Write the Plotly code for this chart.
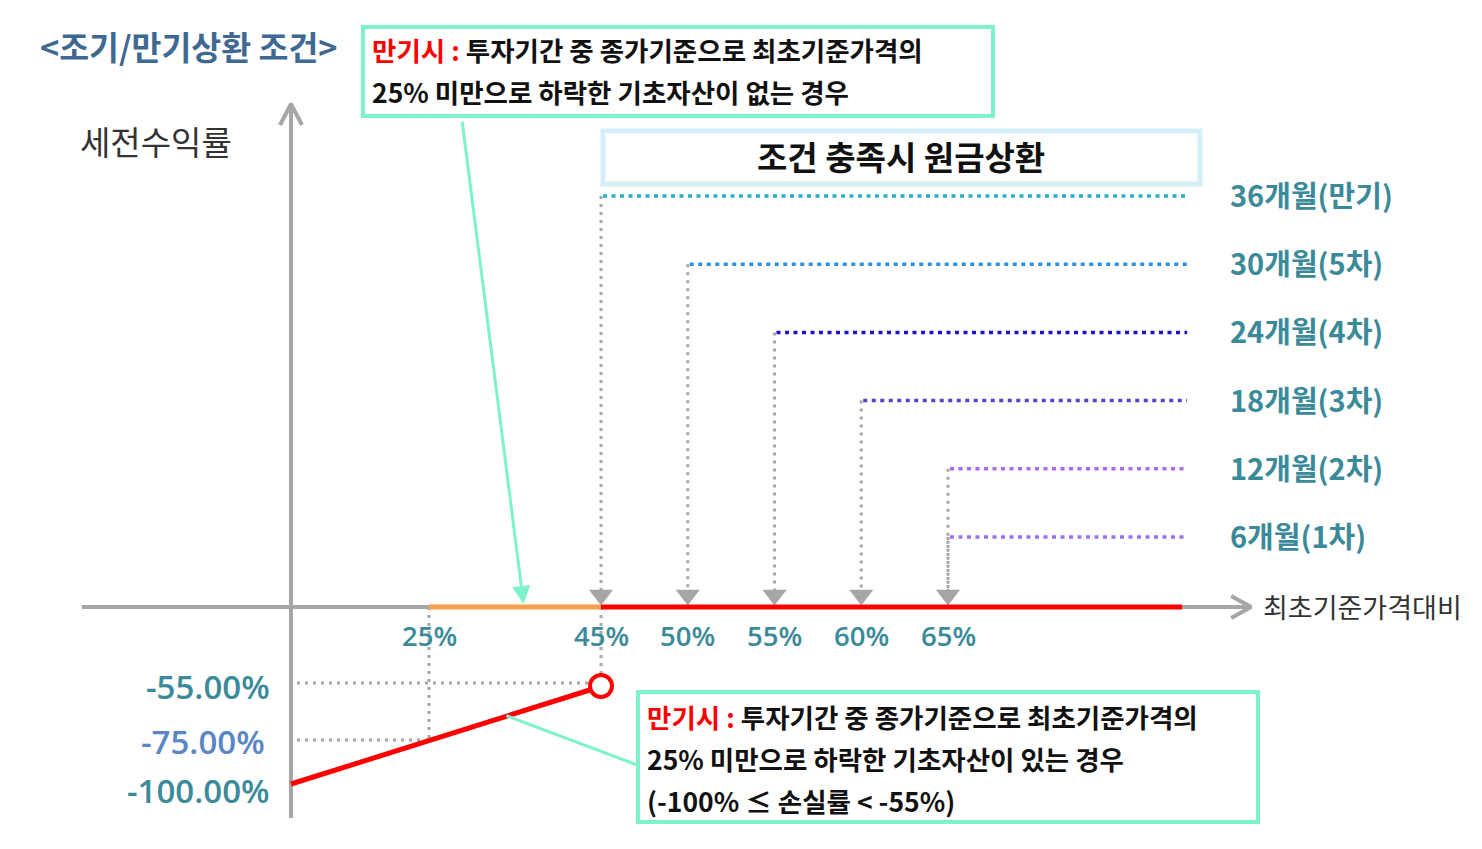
import numpy as np
import plotly.graph_objects as go

# ---------------- data ----------------
obs_labels = ["6개월(1차)", "12개월(2차)", "18개월(3차)", "24개월(4차)", "30개월(5차)", "36개월(만기)"]
obs_months = [6, 12, 18, 24, 30, 36]
obs_barrier = [65, 65, 60, 55, 50, 45]          # % of initial price
obs_colors = ["#a56cf0", "#a56cf0", "#5b40c8", "#1515c9", "#2a93e4", "#22b4c6"]

tick_pct = [25, 45, 50, 55, 60, 65]
tick_labels = ["25%", "45%", "50%", "55%", "60%", "65%"]

ki_barrier = 25        # knock-in level (%)
mat_barrier = 45       # maturity redemption level (%)
loss_pct = [0, 25, 45]          # underlying vs initial (%)
loss_ret = [-100, -75, -55]     # pre-tax return (%)
ret_labels = ["-100.00%", "-75.00%", "-55.00%"]
ret_label_colors = ["#3b8a9a", "#5a86c6", "#3b8a9a"]
axis_end_pct = 78.5

# ---------------- schematic (broken) scales ----------------
_XP = [0, 25, 45, 65, 100]
_XD = [291, 429, 601, 948, 1555]
_RP = [-100, -75, -55, 0]
_RD = [784, 740, 686, 607]


def X(p):
    return float(np.interp(p, _XP, _XD))


def Y(r):
    return float(np.interp(r, _RP, _RD))


def YM(m):  # observation month -> vertical position
    return float(np.interp(m, [6, 36], [537, 196]))


FONT = "Noto Sans CJK KR"
NUMFONT = "Open Sans"
TEAL = "#3b8a9a"
GRAY = "#a6a6a6"
AQUA = "#7ef2ca"

fig = go.Figure()
ann = []
shapes = []

y0 = Y(0)

# x axis line + arrow
fig.add_trace(go.Scatter(x=[82, X(axis_end_pct) + 67], y=[y0, y0], mode="lines",
                         line=dict(color=GRAY, width=4), hoverinfo="skip"))
xa = X(axis_end_pct) + 69
fig.add_trace(go.Scatter(x=[xa - 20, xa, xa - 20], y=[y0 - 11, y0, y0 + 11], mode="lines",
                         line=dict(color=GRAY, width=4), hoverinfo="skip"))
# y axis line + arrow
fig.add_trace(go.Scatter(x=[X(0), X(0)], y=[818, 106], mode="lines",
                         line=dict(color=GRAY, width=4), hoverinfo="skip"))
fig.add_trace(go.Scatter(x=[X(0) - 11, X(0), X(0) + 11], y=[125, 104, 125], mode="lines",
                         line=dict(color=GRAY, width=4), hoverinfo="skip"))

# vertical gray dotted guides for each barrier (with arrow)
dot_gray = dict(color=GRAY, width=3, dash="3px,5px")
for m, b in zip(obs_months, obs_barrier):
    fig.add_trace(go.Scatter(x=[X(b), X(b)], y=[YM(m), y0 - 12], mode="lines",
                             line=dot_gray, hoverinfo="skip"))
uniq = sorted(set(obs_barrier))
fig.add_trace(go.Scatter(x=[X(b) for b in uniq], y=[y0 - 12] * len(uniq), mode="markers",
                         marker=dict(symbol="triangle-down", size=21, color=GRAY), hoverinfo="skip"))

# horizontal coloured dotted lines for each observation
for m, b, c in zip(obs_months, obs_barrier, obs_colors):
    fig.add_trace(go.Scatter(x=[X(b) + 2, X(axis_end_pct) + 5], y=[YM(m), YM(m)], mode="lines",
                             line=dict(color=c, width=3.5, dash="4px,4.5px"), hoverinfo="skip"))

# guides in loss area
fig.add_trace(go.Scatter(x=[X(0) + 6, X(mat_barrier) - 10], y=[Y(-55) - 3, Y(-55) - 3], mode="lines",
                         line=dot_gray, hoverinfo="skip"))
fig.add_trace(go.Scatter(x=[X(0) + 6, X(ki_barrier)], y=[Y(-75), Y(-75)], mode="lines",
                         line=dot_gray, hoverinfo="skip"))
fig.add_trace(go.Scatter(x=[X(ki_barrier), X(ki_barrier)], y=[y0, Y(-75)], mode="lines",
                         line=dot_gray, hoverinfo="skip"))
fig.add_trace(go.Scatter(x=[X(mat_barrier), X(mat_barrier)], y=[y0, Y(-55) - 12], mode="lines",
                         line=dot_gray, hoverinfo="skip"))

# payoff: orange (25-45) and red (>=45) on the axis
fig.add_trace(go.Scatter(x=[X(ki_barrier), X(mat_barrier)], y=[y0, y0], mode="lines",
                         line=dict(color="#f5a04c", width=5), hoverinfo="skip"))
fig.add_trace(go.Scatter(x=[X(mat_barrier), X(axis_end_pct)], y=[y0, y0], mode="lines",
                         line=dict(color="#ff0000", width=5), hoverinfo="skip"))
# loss line
fig.add_trace(go.Scatter(x=[X(p) for p in loss_pct[:-1]] + [X(loss_pct[-1]) - 8],
                         y=[Y(r) for r in loss_ret[:-1]] + [Y(loss_ret[-1]) + 3],
                         mode="lines", line=dict(color="#ff0000", width=5), hoverinfo="skip"))
fig.add_trace(go.Scatter(x=[X(loss_pct[-1])], y=[Y(loss_ret[-1])], mode="markers",
                         marker=dict(symbol="circle", size=22, color="white",
                                     line=dict(color="#ff0000", width=4)), hoverinfo="skip"))

# bottom connector
fig.add_trace(go.Scatter(x=[X(34), 640], y=[Y(-66), 766], mode="lines",
                         line=dict(color=AQUA, width=3), hoverinfo="skip"))

# ---------- boxes ----------
shapes.append(dict(type="rect", xref="x", yref="y", x0=363, y0=27, x1=993, y1=116,
                   line=dict(color=AQUA, width=4), fillcolor="white", layer="below"))
shapes.append(dict(type="rect", xref="x", yref="y", x0=603, y0=131, x1=1200, y1=184,
                   line=dict(color="#d6eef7", width=5), fillcolor="white", layer="below"))
shapes.append(dict(type="rect", xref="x", yref="y", x0=638, y0=692, x1=1258, y1=822,
                   line=dict(color=AQUA, width=4), fillcolor="white", layer="below"))

# top connector arrow
ann.append(dict(x=X(36), y=y0 - 3, ax=462, ay=120, xref="x", yref="y", axref="x", ayref="y",
                text="", showarrow=True, arrowhead=2, arrowsize=1.2, arrowwidth=3, arrowcolor=AQUA))

# ---------- texts ----------
def txt(x, y, s, size, color="#111", xanchor="left", bold=False, weight=None, family=FONT):
    f = dict(family=family, size=size, color=color)
    if weight:
        f["weight"] = weight
    ann.append(dict(x=x, y=y, xref="x", yref="y", text=(f"<b>{s}</b>" if bold else s),
                    showarrow=False, xanchor=xanchor, yanchor="middle", font=f))


txt(38, 45, "&lt;조기/만기상환 조건&gt;", 32.5, "#3f6893", bold=True)
red = "<span style='color:#ff0000'>만기시 :</span>"
txt(370, 49, red + " 투자기간 중 종가기준으로 최초기준가격의", 26.5, "#111", bold=True)
txt(370, 91, "25% 미만으로 하락한 기초자산이 없는 경우", 26.5, "#111", bold=True)
txt(78, 141, "세전수익률", 33, "#333")
txt(901, 156, "조건 충족시 원금상환", 33, "#111", xanchor="center", bold=True)

for lab, m in zip(obs_labels, obs_months):
    txt(1228, YM(m) - 2, lab, 29, TEAL, bold=True)

for lab, p in zip(tick_labels, tick_pct):
    txt(X(p), y0 + 28, lab, 27.5, TEAL, xanchor="center", weight=600, family=NUMFONT)

txt(1261, y0 - 1, "최초기준가격대비", 27, "#333")

for lab, r, c in zip(ret_labels, loss_ret, ret_label_colors):
    dy = {-100: 6, -75: 1, -55: 0}[r]
    dx = {-100: 0, -75: -5, -55: 0}[r]
    txt(272 + dx, Y(r) + dy, lab, 33, c, xanchor="right", weight=600, family=NUMFONT)

txt(645, 716, red + " 투자기간 중 종가기준으로 최초기준가격의", 26.5, "#111", bold=True)
txt(645, 758, "25% 미만으로 하락한 기초자산이 있는 경우", 26.5, "#111", bold=True)
txt(645, 800, "(-100% ≤ 손실률 &lt; -55%)", 26.5, "#111", bold=True)

# The page body has an 8px margin: the plot area starts at (8, 8) on screen,
# so the ranges start at 8 to keep the drawing coordinates screen-aligned.
fig.update_layout(
    width=1474, height=841, margin=dict(l=0, r=0, t=0, b=0),
    paper_bgcolor="white", plot_bgcolor="white", showlegend=False,
    xaxis=dict(range=[8, 1482], visible=False, fixedrange=True),
    yaxis=dict(range=[849, 8], visible=False, fixedrange=True),
    shapes=shapes, annotations=ann,
)
fig.write_html("out.html", config={"displayModeBar": False})
